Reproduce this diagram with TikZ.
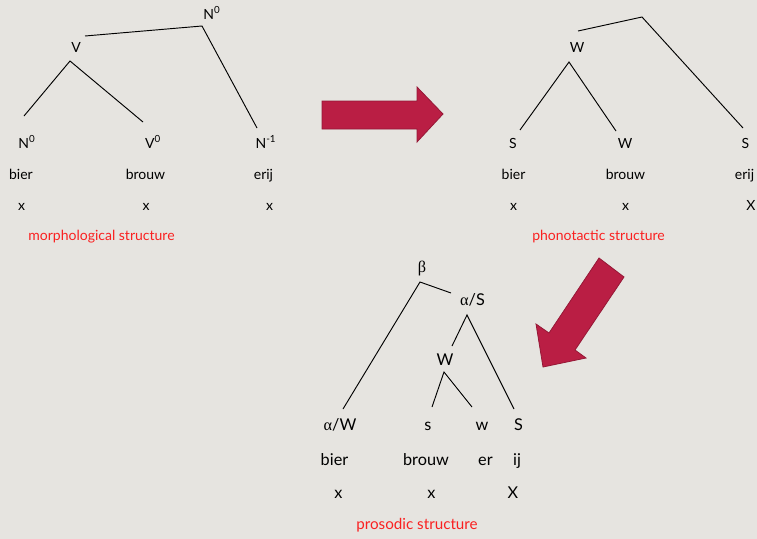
\documentclass[tikz,border=0pt]{standalone}
\usepackage{fontspec}
\setmainfont{Lato}
\newfontfamily\greekfont{Liberation Serif}
\definecolor{bggray}{RGB}{230,228,224}
\definecolor{crimson}{RGB}{186,30,68}
\definecolor{capred}{RGB}{250,32,32}
\tikzstyle{cat} = [font=\fontsize{10.5}{12}\selectfont, anchor=base, inner sep=0pt]
\tikzstyle{seg} = [font=\fontsize{10.5}{12}\selectfont, anchor=base, inner sep=0pt]
\tikzstyle{bigcat} = [font=\fontsize{12.2}{14}\selectfont, anchor=base, inner sep=0pt]
\tikzstyle{struct} = [font=\fontsize{10.5}{12}\selectfont, text=capred, anchor=base, inner sep=0pt]
\tikzstyle{branch} = [line width=0.7pt]
\tikzstyle{bigarrow} = [fill=crimson, draw=crimson!80!black, line width=0.6pt, line join=miter]
\begin{document}
\begin{tikzpicture}[x=0.75pt,y=-0.75pt]

% Background
\fill[bggray] (0,0) rectangle (757,539);
\useasboundingbox (0,0) rectangle (757,539);

% Morphological structure
\node (mtop) [cat] at (212,19) {N\textsuperscript{0}};
\node (mV) [cat] at (76,52) {V};
\node (mN) [cat] at (27,148) {N\textsuperscript{0}};
\node (mVv) [cat] at (153,148) {V\textsuperscript{0}};
\node (mNi) [cat] at (266,148) {N\textsuperscript{-1}};
\node (mbier) [seg] at (21,179) {bier};
\node (mbrouw) [seg] at (145.5,179) {brouw};
\node (merij) [seg] at (263.5,179) {erij};
\node (mx1) [seg] at (21.5,210) {x};
\node (mx2) [seg] at (146,210) {x};
\node (mx3) [seg] at (269.5,210) {x};
\node (mcap) [struct] at (101.5,240) {morphological structure};

\coordinate (mtopj) at (202,26);
\coordinate (mVr) at (85,36);
\coordinate (mVj) at (70,61);
\coordinate (mNt) at (24,116);
\coordinate (mVvt) at (143,122);
\coordinate (mNit) at (257,128);

\draw [branch] (mVr) -- (mtopj) -- (mNit);
\draw [branch] (mNt) -- (mVj) -- (mVvt);

% Arrow to the right
\filldraw [bigarrow] (322,101) -- (417,101) -- (417,87) -- (443,114) -- (417,142) -- (417,129) -- (322,129) -- cycle;

% Phonotactic structure
\node (pW) [cat] at (577,52) {W};
\node (pS1) [cat] at (513,148) {S};
\node (pW2) [cat] at (625,148) {W};
\node (pS2) [cat] at (745.5,148) {S};
\node (pbier) [seg] at (513.5,179) {bier};
\node (pbrouw) [seg] at (625.5,179) {brouw};
\node (perij) [seg] at (744.5,179) {erij};
\node (px1) [seg] at (513.5,210) {x};
\node (px2) [seg] at (625.5,210) {x};
\node (px3) [seg] at (751,210) {X};
\node (pcap) [struct] at (598.5,240) {phonotactic structure};

\coordinate (ptopj) at (642,17);
\coordinate (pWr) at (578,31);
\coordinate (pWj) at (569,62);
\coordinate (pS1t) at (520,130);
\coordinate (pW2t) at (616,131);
\coordinate (pS2t) at (743,128);

\draw [branch] (pWr) -- (ptopj) -- (pS2t);
\draw [branch] (pS1t) -- (pWj) -- (pW2t);

% Arrow down to the left
\filldraw [bigarrow] (599,258) -- (624,277) -- (575,350) -- (586,358) -- (543,367) -- (536,324) -- (549,333) -- cycle;

% Prosodic structure
\node (rbeta) [bigcat] at (422,272) {{\greekfont β}};
\node (ralphaS) [bigcat] at (472.5,305) {{\greekfont α}/S};
\node (rW) [bigcat] at (445,365) {W};
\node (ralphaW) [bigcat] at (340,430) {{\greekfont α}/W};
\node (rs) [bigcat] at (428,430) {s};
\node (rw) [bigcat] at (482,430) {w};
\node (rS) [bigcat] at (518.5,430) {S};
\node (rbier) [bigcat] at (334.5,465) {bier};
\node (rbrouw) [bigcat] at (426,465) {brouw};
\node (rer) [bigcat] at (485.5,465) {er};
\node (rij) [bigcat] at (517,465) {ij};
\node (rx1) [bigcat] at (338.5,498) {x};
\node (rx2) [bigcat] at (431.5,498) {x};
\node (rx3) [bigcat] at (513,498) {X};
\node (rcap) [struct, font=\fontsize{11.4}{13}\selectfont] at (417,529) {prosodic structure};

\coordinate (rbetaj) at (420,282);
\coordinate (ralphaSl) at (451,293);
\coordinate (ralphaSj) at (467,315);
\coordinate (rWt) at (452,346);
\coordinate (rWj) at (444,372);
\coordinate (ralphaWt) at (343,409);
\coordinate (rst) at (432,407);
\coordinate (rwt) at (472,407);
\coordinate (rSt) at (514,409);

\draw [branch] (ralphaWt) -- (rbetaj) -- (ralphaSl);
\draw [branch] (rWt) -- (ralphaSj) -- (rSt);
\draw [branch] (rst) -- (rWj) -- (rwt);

\end{tikzpicture}
\end{document}
